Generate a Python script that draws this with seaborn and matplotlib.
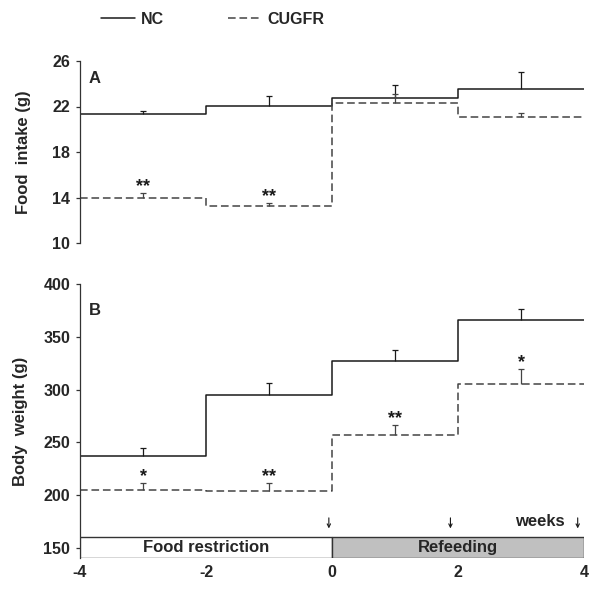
import matplotlib
matplotlib.use("Agg")
import matplotlib.pyplot as plt
from matplotlib.lines import Line2D
import numpy as np
import pandas as pd
import seaborn as sns

# week boundaries of each step and the midpoints where error bars sit
week_edges = [-4, -2, 0, 2, 4]
week_mid = [-3, -1, 1, 3]

# panel A: food intake (g)
intake_nc = [21.33, 22.06, 22.72, 23.52]
intake_nc_sem = [0.29, 0.90, 1.17, 1.48]
intake_cugfr = [14.00, 13.24, 22.28, 21.04]
intake_cugfr_sem = [0.43, 0.32, 0.82, 0.38]
intake_stars = ["**", "**", "", ""]

# panel B: body weight (g)
weight_nc = [237.1, 295.3, 327.5, 366.3]
weight_nc_sem = [7.9, 11.0, 9.8, 9.7]
weight_cugfr = [205.0, 203.7, 256.6, 305.7]
weight_cugfr_sem = [7.0, 8.3, 10.1, 13.9]
weight_stars = ["*", "**", "**", "*"]

# phase boxes at the bottom of panel B
phase_start = [-4, 0]
phase_end = [0, 4]
phase_labels = ["Food restriction", "Refeeding"]
phase_colors = ["white", "#c0c0c0"]
arrow_weeks = [-0.05, 1.88, 3.9]

groups = ["NC", "CUGFR"]
colors = {"NC": "#1a1a1a", "CUGFR": "#444444"}
dashes = {"NC": "", "CUGFR": (5, 2.5)}

sns.set_style("ticks")
plt.rcParams["font.family"] = ["Liberation Sans", "DejaVu Sans"]
plt.rcParams["font.weight"] = "bold"
plt.rcParams["axes.labelweight"] = "bold"
plt.rcParams["axes.unicode_minus"] = False

fig = plt.figure(figsize=(6.0, 5.9), dpi=100)
ax_a = fig.add_axes([80 / 600, 1 - 243 / 590, 504 / 600, 182 / 590])
ax_b = fig.add_axes([80 / 600, 1 - 558 / 590, 504 / 600, 274 / 590])


def long_frame(nc, cugfr):
    rows = []
    for name, vals in zip(groups, [nc, cugfr]):
        for x, v in zip(week_edges, list(vals) + [vals[-1]]):
            rows.append({"week": x, "value": v, "group": name})
    return pd.DataFrame(rows)


def draw_panel(ax, nc, nc_sem, cugfr, cugfr_sem, stars, star_offset):
    df = long_frame(nc, cugfr)
    sns.lineplot(data=df, x="week", y="value", hue="group", style="group",
                 palette=colors, dashes=dashes, drawstyle="steps-post",
                 estimator=None, legend=False, linewidth=1.1, ax=ax)
    for name, vals, sem in [("NC", nc, nc_sem), ("CUGFR", cugfr, cugfr_sem)]:
        tops = np.array(vals) + np.array(sem)
        ax.vlines(week_mid, vals, tops, color=colors[name], lw=0.9)
        ax.hlines(tops, np.array(week_mid) - 0.05, np.array(week_mid) + 0.05,
                  color=colors[name], lw=0.9)
    # stars sit above the CUGFR error bar
    for x, v, s, st in zip(week_mid, cugfr, cugfr_sem, stars):
        if st:
            ax.text(x, v + s + star_offset, st, ha="center", va="bottom",
                    fontsize=13, fontweight="bold", color="#1a1a1a")
    ax.set_xlim(-4, 4)
    ax.set_xlabel("")
    ax.tick_params(axis="y", labelsize=11.5, length=3, width=0.9,
                   color="#333333", pad=4)
    for side in ["top", "right"]:
        ax.spines[side].set_visible(False)
    ax.spines["left"].set_color("#333333")
    ax.spines["left"].set_linewidth(0.9)


# panel A
draw_panel(ax_a, intake_nc, intake_nc_sem, intake_cugfr, intake_cugfr_sem,
           intake_stars, -0.2)
ax_a.set_ylim(10, 26)
ax_a.set_yticks([10, 14, 18, 22, 26])
ax_a.spines["bottom"].set_visible(False)
ax_a.set_xticks([])
ax_a.set_ylabel("Food  intake (g)", fontsize=12, labelpad=15)
ax_a.text(0.018, 0.905, "A", transform=ax_a.transAxes, fontsize=12,
          fontweight="bold", va="center", ha="left")

# panel B
draw_panel(ax_b, weight_nc, weight_nc_sem, weight_cugfr, weight_cugfr_sem,
           weight_stars, -2.5)
box_lo, box_hi = 140.5, 160.7
ax_b.set_ylim(box_lo, 400)
ax_b.set_yticks([150, 200, 250, 300, 350, 400])
ax_b.spines["left"].set_bounds(box_lo, 400)
ax_b.spines["bottom"].set_visible(False)
ax_b.set_xticks(week_edges)
ax_b.tick_params(axis="x", labelsize=11.5, length=0, pad=5)
ax_b.set_ylabel("Body  weight (g)", fontsize=12, labelpad=11)
ax_b.text(0.018, 0.905, "B", transform=ax_b.transAxes, fontsize=12,
          fontweight="bold", va="center", ha="left")

for s, e, lab, c in zip(phase_start, phase_end, phase_labels, phase_colors):
    ax_b.bar(s, box_hi - box_lo, width=e - s, bottom=box_lo, align="edge",
             color=c, edgecolor="#333333", linewidth=1.0, zorder=3)
    ax_b.text((s + e) / 2, 150, lab, ha="center", va="center", fontsize=12,
              fontweight="bold", zorder=4)

for x in arrow_weeks:
    ax_b.annotate("", xy=(x, 168.5), xytext=(x, 178.5),
                  arrowprops=dict(arrowstyle="->", lw=0.8, color="#1a1a1a",
                                  mutation_scale=6, shrinkA=0, shrinkB=0))
ax_b.text(3.3, 174.6, "weeks", ha="center", va="center", fontsize=12,
          fontweight="bold")

# legend across the top
handles = [Line2D([], [], color=colors[g], lw=1.1,
                  linestyle="-" if g == "NC" else (0, (5, 2.5))) for g in groups]
leg = fig.legend(handles, groups, loc="center left",
                 bbox_to_anchor=(101 / 600, 1 - 19 / 590), ncol=2,
                 frameon=False, borderpad=0, borderaxespad=0,
                 handlelength=2.1, handletextpad=0.4, columnspacing=4.0,
                 prop={"size": 11.5, "weight": "bold"})

fig.savefig("out.png", dpi=100)
